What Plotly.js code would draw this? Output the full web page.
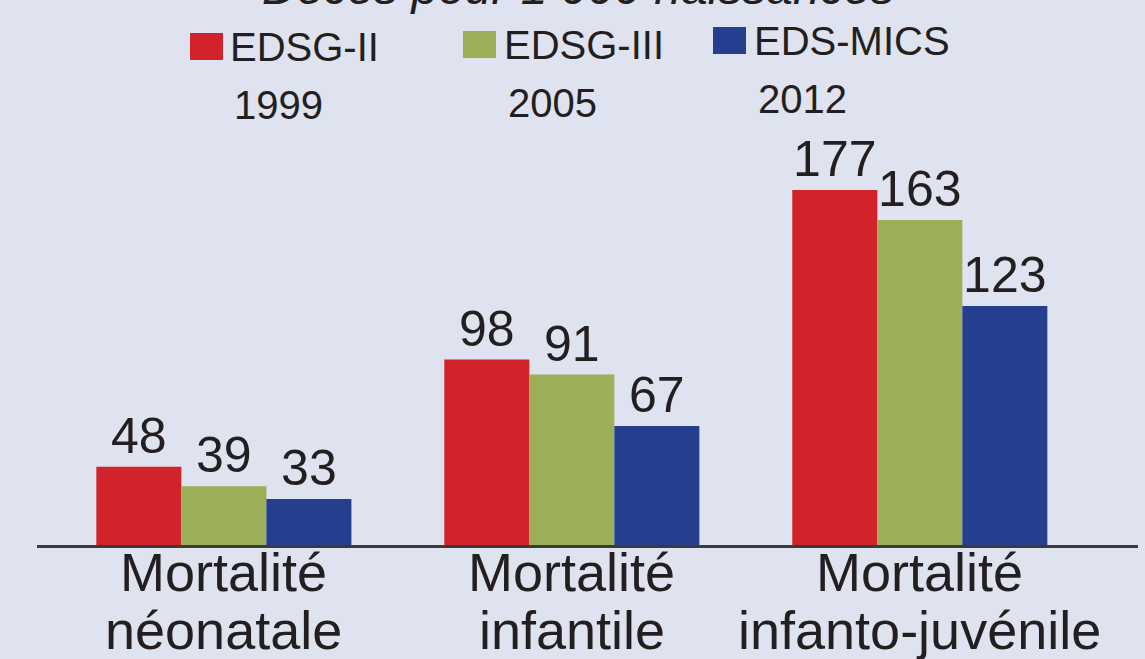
<!DOCTYPE html>
<html>
<head>
<meta charset="utf-8">
<script src="https://cdn.plot.ly/plotly-3.0.1.min.js"></script>
<style>html,body{margin:0;padding:0;background:#dfe2ef;}#chart{width:1145px;height:659px;}</style>
</head>
<body>
<div id="chart"></div>
<script>
const categories = ["Mortalité néonatale", "Mortalité infantile", "Mortalité infanto-juvénile"];
const labelLine1 = ["Mortalité", "Mortalité", "Mortalité"];
const labelLine2 = ["néonatale", "infantile", "infanto-juvénile"];
const seriesNames = ["EDSG-II", "EDSG-III", "EDS-MICS"];
const seriesYears = ["1999", "2005", "2012"];
const edsg2 = [48, 98, 177];
const edsg3 = [39, 91, 163];
const edsmics = [33, 67, 123];
const titleText = "Décès pour 1 000 naissances";

const colors = ["#d2232a", "#9bae58", "#243f8e"];
const FONT = "Liberation Sans, Arial, sans-serif";
const TXT = "#231f20";
const W = 1145, H = 659, L = 37, R = 7, T = 0, B = 114;
const pw = W - L - R, ph = H - T - B;
const xp = px => (px - L) / pw;
const yp = py => (ph - (py - T)) / ph;

const values = [edsg2, edsg3, edsmics];
const traces = values.map((v, i) => ({
  type: "bar",
  name: seriesNames[i],
  x: categories,
  y: v,
  marker: {color: colors[i], line: {width: 0}},
  text: v.map(String),
  textposition: "outside",
  textfont: {family: FONT, size: 50, color: TXT},
  constraintext: "none",
  cliponaxis: false,
  hoverinfo: "x+y"
}));

const annotations = [];
const shapes = [];
// title (cut at the top)
annotations.push({xref: "paper", yref: "paper", x: xp(578), y: yp(16), xanchor: "center", yanchor: "bottom",
  text: "<i>" + titleText + "</i>", showarrow: false, font: {family: FONT, size: 48, color: TXT}});
// legend
const sqX = [190, 463, 713], sqY = [33, 31, 27], txX = [228, 502, 752];
seriesNames.forEach((n, i) => {
  shapes.push({type: "rect", xref: "paper", yref: "paper", x0: xp(sqX[i]), x1: xp(sqX[i] + 33),
    y0: yp(sqY[i]), y1: yp(sqY[i] + 27), fillcolor: colors[i], line: {width: 0}});
  annotations.push({xref: "paper", yref: "paper", x: xp(txX[i]), y: yp(sqY[i] + 38), xanchor: "left", yanchor: "bottom",
    text: n, showarrow: false, font: {family: FONT, size: 40, color: TXT}});
  annotations.push({xref: "paper", yref: "paper", x: xp(txX[i] + 4), y: yp(sqY[i] + 96), xanchor: "left", yanchor: "bottom",
    text: seriesYears[i], showarrow: false, font: {family: FONT, size: 40, color: TXT}});
});
// category labels
categories.forEach((c, i) => {
  annotations.push({xref: "x", yref: "paper", x: c, y: yp(604), xanchor: "center", yanchor: "bottom",
    text: labelLine1[i], showarrow: false, font: {family: FONT, size: 54, color: TXT}});
  annotations.push({xref: "x", yref: "paper", x: c, y: yp(662), xanchor: "center", yanchor: "bottom",
    text: labelLine2[i], showarrow: false, font: {family: FONT, size: 54, color: TXT}});
});

const layout = {
  width: W, height: H,
  margin: {l: L, r: R, t: T, b: B, pad: 0},
  paper_bgcolor: "#dfe2ef",
  plot_bgcolor: "#dfe2ef",
  showlegend: false,
  barmode: "group",
  bargap: 0.267,
  bargroupgap: 0,
  xaxis: {type: "category", range: [-0.537, 2.627], showline: true, linecolor: "#3a3a3a", linewidth: 2.5,
    showticklabels: false, ticks: "", showgrid: false, zeroline: false, fixedrange: true},
  yaxis: {range: [11.6, 265.5], visible: false, showgrid: false, zeroline: false, fixedrange: true},
  annotations: annotations,
  shapes: shapes
};

Plotly.newPlot("chart", traces, layout, {displayModeBar: false, staticPlot: true});
</script>
</body>
</html>
